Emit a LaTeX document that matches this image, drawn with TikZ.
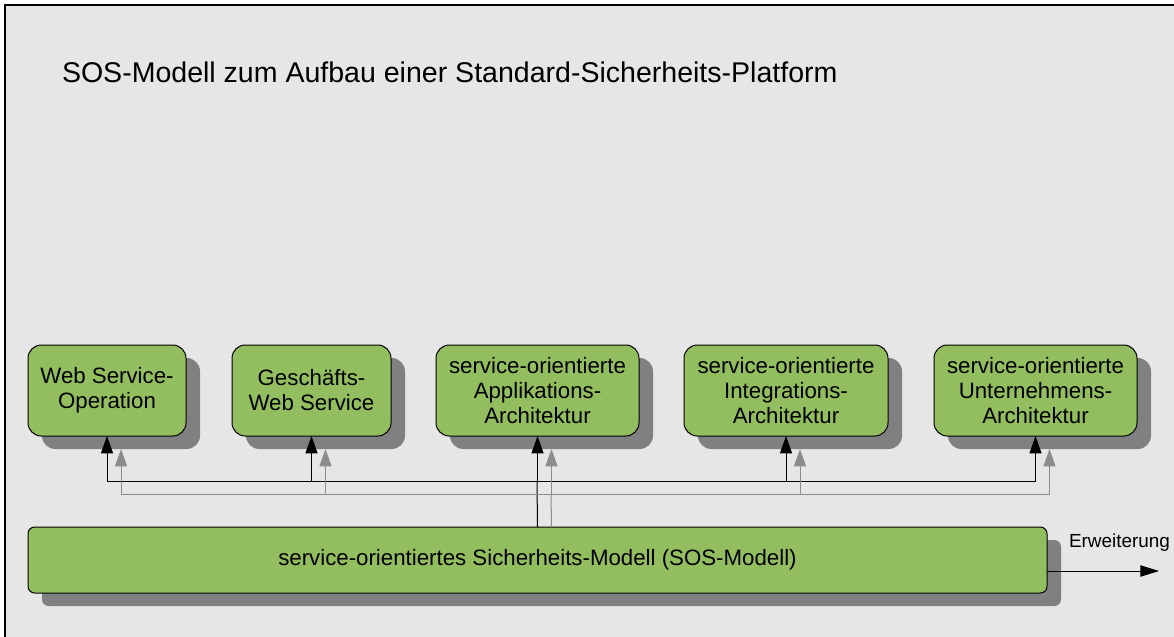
\documentclass[tikz,border=0pt]{standalone}
\usepackage{fontspec}
\setmainfont{Liberation Sans}
\usetikzlibrary{arrows.meta,shadows}
\definecolor{boxgreen}{RGB}{147,190,95}
\definecolor{shadowgray}{RGB}{128,128,128}
\definecolor{bggray}{RGB}{230,230,230}
\definecolor{wiregray}{RGB}{140,140,140}

\begin{document}
\begin{tikzpicture}[x=0.75pt,y=-0.75pt,inner sep=0pt,outer sep=0pt,
modblock/.style={draw,fill=boxgreen,rounded corners=10pt,align=center,line width=0.75pt,
  minimum height=68.25pt,font=\fontsize{16.7pt}{18.75pt}\selectfont,
  drop shadow={shadow xshift=10.5pt,shadow yshift=-9.75pt,fill=shadowgray,opacity=1}},
wire/.style={line width=0.75pt},
blktip/.style={-{Triangle[length=13pt,width=9pt]}},
graytip/.style={wiregray,-{Triangle[length=13pt,width=9pt]}}]
\useasboundingbox (0,0) rectangle (1174,636);
\fill[white] (0,0) rectangle (1174,636);
\draw[fill=bggray,line width=1.2pt] (5,5) rectangle (1200,660);
\draw (62,82) node[anchor=base west,font=\fontsize{21.4pt}{24pt}\selectfont] (title) {SOS-Modell zum Aufbau einer Standard-Sicherheits-Platform};
% obere Ebene
\draw (107,390.5) node[modblock,minimum width=118.5pt] (wso) {Web Service-\\Operation};
\draw (311.5,390.5) node[modblock,minimum width=119.25pt] (gws) {Geschäfts-\\Web Service};
\draw (537.5,390.5) node[modblock,minimum width=152.25pt] (soa) {service-orientierte\\Applikations-\\Architektur};
\draw (786,390.5) node[modblock,minimum width=153pt] (soi) {service-orientierte\\Integrations-\\Architektur};
\draw (1035.5,390.5) node[modblock,minimum width=152.25pt] (sue) {service-orientierte\\Unternehmens-\\Architektur};
% Basis
\draw (537.5,560) node[modblock,rounded corners=5pt,minimum width=764.25pt,minimum height=49.5pt] (sos) {service-orientiertes Sicherheits-Modell (SOS-Modell)};
\coordinate (busB) at (537,481);
\coordinate (busG) at (551,494);
% schwarze Verbindungen
\draw[wire] (sos.north) -- (busB);
\draw[wire] (wso.south |- busB) -- (sue.south |- busB);
\foreach \b in {wso,gws,soa,soi,sue}
  \draw[wire,blktip] (\b.south |- busB) -- (\b.south);
% graue Verbindungen
\draw[wire,wiregray] ([xshift=10.5pt]sos.north) -- (busG);
\draw[wire,wiregray] ([xshift=10.5pt]wso.south |- busG) -- ([xshift=10.5pt]sue.south |- busG);
\foreach \b in {wso,gws,soa,soi,sue}
  \draw[wire,graytip] ([xshift=10.5pt]\b.south |- busG) -- ([shift={(10.5pt,-9.75pt)}]\b.south);
% Erweiterung
\coordinate (ext) at (1159,571);
\draw[wire,-{Triangle[length=14pt,width=8.5pt]}] (sos.east |- ext) -- (ext);
\draw (1069,547) node[anchor=base west,font=\fontsize{14.2pt}{16pt}\selectfont] (extlabel) {Erweiterung};
\end{tikzpicture}
\end{document}
